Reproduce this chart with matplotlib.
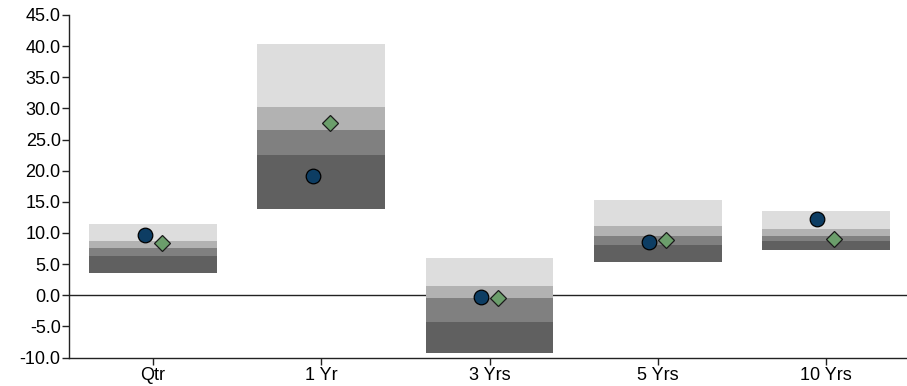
import matplotlib
matplotlib.use("Agg")
import numpy as np
import matplotlib.pyplot as plt

plt.rcParams["font.family"] = ["Liberation Sans", "DejaVu Sans"]

# ── Data ─────────────────────────────────────────────────────
periods = ["Qtr", "1 Yr", "3 Yrs", "5 Yrs", "10 Yrs"]
low     = [3.6, 13.8, -9.3, 5.35, 7.3]     # bottom of range
q_low   = [6.3, 22.5, -4.35, 8.1, 8.7]
median  = [7.6, 26.5, -0.5, 9.5, 9.5]
q_high  = [8.7, 30.3, 1.55, 11.1, 10.65]
high    = [11.5, 40.4, 6.05, 15.35, 13.5]  # top of range
portfolio = [9.75, 19.2, -0.27, 8.6, 12.25]
benchmark = [8.4, 27.7, -0.37, 8.8, 8.95]

# ── Plot ─────────────────────────────────────────────────────
fig = plt.figure(figsize=(9.07, 3.86), dpi=100)
ax = fig.add_axes([69 / 907, 28.5 / 386, 841 / 907, 342.5 / 386])

x = np.arange(len(periods))
width = 0.76
levels = [low, q_low, median, q_high, high]
shades = ["#606060", "#808080", "#b2b2b2", "#dddddd"]
for i, color in enumerate(shades):
    lo = np.array(levels[i])
    hi = np.array(levels[i + 1])
    ax.bar(x, hi - lo, bottom=lo, width=width, color=color,
           linewidth=0, zorder=2)

ax.axhline(0, color="#222222", linewidth=1.0, zorder=1)

ax.plot(x - 0.05, portfolio, linestyle="none", marker="o", markersize=10.5,
        markerfacecolor="#0d3d63", markeredgecolor="black",
        markeredgewidth=0.9, zorder=4)
ax.plot(x + 0.05, benchmark, linestyle="none", marker="D", markersize=7.9,
        markerfacecolor="#6b9e6b", markeredgecolor="#1a1a1a",
        markeredgewidth=0.9, zorder=4)

ax.set_xlim(-0.5, 4.5)
ax.set_ylim(-10, 45)
ax.set_yticks(np.arange(-10, 46, 5))
ax.set_yticklabels([f"{v:.1f}" for v in np.arange(-10, 46, 5)])
ax.set_xticks(x)
ax.set_xticklabels(periods)
ax.tick_params(axis="y", labelsize=13, length=5, width=1, pad=1,
               color="#222222")
ax.tick_params(axis="x", labelsize=13, length=5, width=1, pad=1.5,
               color="#222222")
ax.spines["top"].set_visible(False)
ax.spines["right"].set_visible(False)
for side in ("left", "bottom"):
    ax.spines[side].set_linewidth(1)
    ax.spines[side].set_color("#222222")

fig.savefig("out.png", dpi=100)
